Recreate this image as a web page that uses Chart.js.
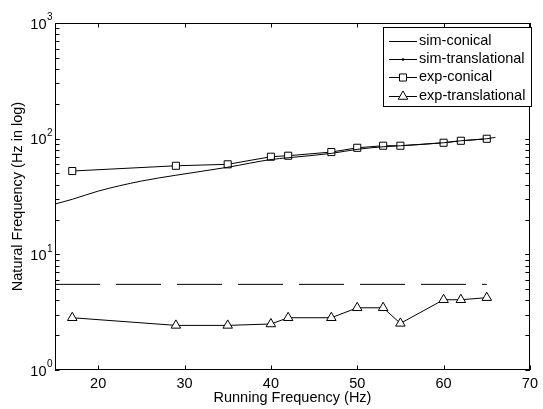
<!DOCTYPE html>
<html>
<head>
<meta charset="utf-8">
<script src="https://cdn.jsdelivr.net/npm/chart.js@4/dist/chart.umd.min.js"></script>
<style>
  body { margin: 0; background: #fff; }
  #wrap { width: 543px; height: 409px; position: relative; }
</style>
</head>
<body>
<div id="wrap"><canvas id="freq"></canvas></div>
<script>
// measured running frequencies (Hz)
const runFreq = [17, 29, 35, 40, 42, 47, 50, 53, 55, 60, 62, 65];
const expConical = [52.5, 58.3, 60, 69.8, 71.2, 76.6, 83.4, 86.9, 86.9, 92.2, 95.9, 99.8];
const expTranslational = [2.83, 2.43, 2.43, 2.5, 2.83, 2.83, 3.45, 3.45, 2.53, 4.05, 4.05, 4.22];

// simulation curves
const simFreq = [15, 17, 20, 25, 29, 35, 40, 42, 47, 50, 53, 55, 60, 62, 65, 66];
const simConical = [27.2, 29.9, 35.2, 43, 48.3, 56.6, 66, 68.4, 74.6, 80.9, 85.1, 86.8, 92.2, 95.9, 99.8, 102.6];
const simTransFreq = [15, 65];
const simTranslational = [5.5, 5.5];

const xTicks = [20, 30, 40, 50, 60, 70];
const yDecades = [1, 10, 100, 1000];
const yExponents = ['0', '1', '2', '3'];

const legendLabels = ['sim-conical', 'sim-translational', 'exp-conical', 'exp-translational'];

const FONT = '"Liberation Sans", Arial, sans-serif';
const toPoints = (xs, ys) => xs.map((x, i) => ({ x: x, y: ys[i] }));

// MATLAB style box, inward ticks, 10^n labels and legend
const matlabFrame = {
  id: 'matlabFrame',
  afterDatasetsDraw(chart) {
    const ctx = chart.ctx;
    const area = chart.chartArea;
    const xs = chart.scales.x;
    const ys = chart.scales.y;
    ctx.save();
    ctx.strokeStyle = '#000';
    ctx.lineWidth = 1;
    ctx.strokeRect(Math.round(area.left) + 0.5, Math.round(area.top) + 0.5,
      Math.round(area.right - area.left) - 1, Math.round(area.bottom - area.top) - 1);

    const tl = 4.5;
    ctx.beginPath();
    xTicks.forEach(v => {
      const px = Math.round(xs.getPixelForValue(v)) + 0.5;
      ctx.moveTo(px, area.bottom); ctx.lineTo(px, area.bottom - tl);
      ctx.moveTo(px, area.top); ctx.lineTo(px, area.top + tl);
    });
    for (let d = 1; d < 1000; d *= 10) {
      for (let m = 1; m <= 10; m++) {
        const py = Math.round(ys.getPixelForValue(d * m)) + 0.5;
        ctx.moveTo(area.left, py); ctx.lineTo(area.left + tl, py);
        ctx.moveTo(area.right, py); ctx.lineTo(area.right - tl, py);
      }
    }
    ctx.stroke();

    ctx.fillStyle = '#000';
    ctx.textBaseline = 'middle';
    yDecades.forEach((v, i) => {
      const py = ys.getPixelForValue(v);
      ctx.font = '14.5px ' + FONT;
      ctx.textAlign = 'right';
      ctx.fillText('10', 46.5, py + 1.5);
      ctx.font = '10px ' + FONT;
      ctx.textAlign = 'left';
      ctx.fillText(yExponents[i], 47, py - 5.5);
    });

    // legend
    const bx = 383, by = 27, bw = 148, bh = 79;
    ctx.fillStyle = '#fff';
    ctx.fillRect(bx, by, bw, bh);
    ctx.strokeRect(bx + 0.5, by + 0.5, bw, bh);
    ctx.font = '14.5px ' + FONT;
    ctx.textAlign = 'left';
    const rows = [40.5, 58.5, 77, 95.5];
    chart.data.datasets.forEach((ds, i) => {
      const y = rows[i];
      ctx.beginPath();
      ctx.moveTo(389, Math.round(y) + 0.5);
      ctx.lineTo(417, Math.round(y) + 0.5);
      ctx.strokeStyle = '#000';
      ctx.lineWidth = 1;
      ctx.stroke();
      if (i === 1) {
        ctx.beginPath();
        ctx.arc(403, Math.round(y) + 0.5, 1.3, 0, Math.PI * 2);
        ctx.fillStyle = '#000';
        ctx.fill();
      }
      if (ds.pointRadius > 0) {
        ctx.fillStyle = '#fff';
        ctx.strokeStyle = '#000';
        Chart.helpers.drawPoint(ctx, { pointStyle: ds.pointStyle, radius: ds.pointRadius, borderWidth: 1, rotation: 0 }, 403, Math.round(y) + 0.5);
      }
      ctx.fillStyle = '#000';
      ctx.fillText(legendLabels[i], 419, y);
    });
    ctx.restore();
  }
};

const ctx = document.getElementById('freq').getContext('2d');
const chart = new Chart(ctx, {
  type: 'line',
  data: {
    datasets: [
      {
        label: 'sim-conical',
        data: toPoints(simFreq, simConical),
        borderColor: '#000',
        borderWidth: 1,
        cubicInterpolationMode: 'monotone',
        pointRadius: 0
      },
      {
        label: 'sim-translational',
        data: toPoints(simTransFreq, simTranslational),
        borderColor: '#000',
        borderWidth: 1,
        borderDash: [45, 16],
        pointRadius: 0
      },
      {
        label: 'exp-conical',
        data: toPoints(runFreq, expConical),
        borderColor: '#000',
        borderWidth: 1,
        pointStyle: 'rect',
        pointRadius: 5,
        pointBackgroundColor: '#fff',
        pointBorderColor: '#000',
        pointBorderWidth: 1
      },
      {
        label: 'exp-translational',
        data: toPoints(runFreq, expTranslational),
        borderColor: '#000',
        borderWidth: 1,
        pointStyle: 'triangle',
        pointRadius: 5.5,
        pointBackgroundColor: '#fff',
        pointBorderColor: '#000',
        pointBorderWidth: 1
      }
    ]
  },
  options: {
    responsive: true,
    maintainAspectRatio: false,
    animation: false,
    layout: { padding: { top: 23, right: 9, left: 0, bottom: 0 } },
    plugins: {
      legend: { display: false },
      tooltip: { enabled: false }
    },
    scales: {
      x: {
        type: 'linear',
        min: 15,
        max: 70,
        afterBuildTicks: s => { s.ticks = xTicks.map(v => ({ value: v })); },
        afterFit: s => { s.height = 39; },
        grid: { display: false, drawTicks: false },
        border: { display: false },
        ticks: { color: '#000', padding: 5, maxRotation: 0, font: { family: FONT, size: 14.5 } },
        title: {
          display: true,
          text: 'Running Frequency (Hz)',
          color: '#000',
          padding: { top: 0, bottom: 2 },
          font: { family: FONT, size: 14.5 }
        }
      },
      y: {
        type: 'logarithmic',
        min: 1,
        max: 1000,
        afterFit: s => { s.width = 55; },
        grid: { display: false, drawTicks: false },
        border: { display: false },
        ticks: { display: false },
        title: {
          display: true,
          text: 'Natural Frequency (Hz in log)',
          color: '#000',
          padding: { top: 9, bottom: 0 },
          font: { family: FONT, size: 14.5 }
        }
      }
    }
  },
  plugins: [matlabFrame]
});
</script>
</body>
</html>
